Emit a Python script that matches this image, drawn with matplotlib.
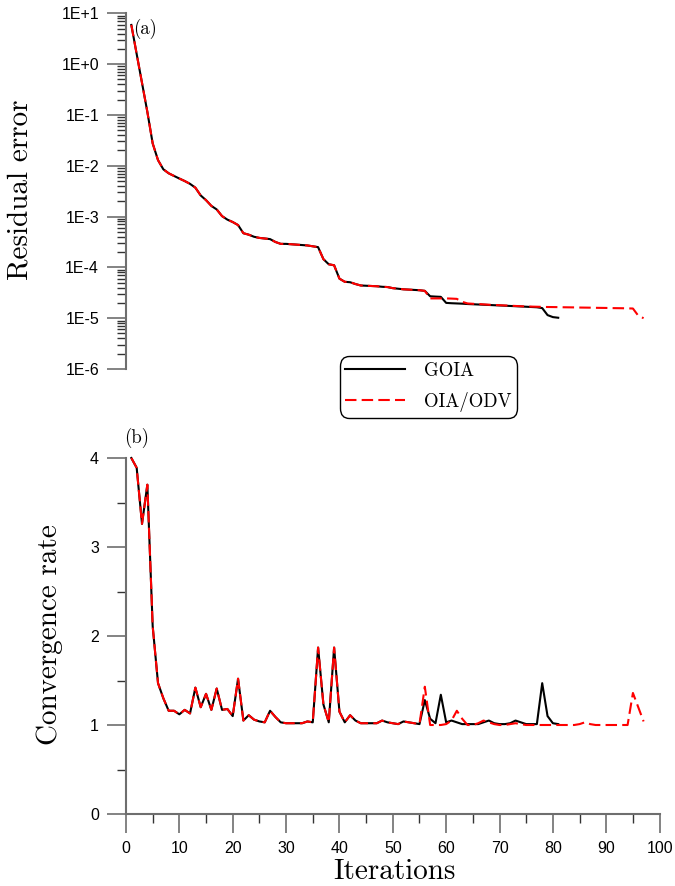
import numpy as np
import matplotlib
matplotlib.use("Agg")
import matplotlib.pyplot as plt
from matplotlib.ticker import LogLocator, FuncFormatter, MultipleLocator, NullFormatter
from matplotlib.lines import Line2D

# ---------------- data ----------------
# residual error, iterations 1..56 (identical for both methods)
common_res = [5.9, 1.58, 0.427, 0.115, 2.75e-2, 1.29e-2, 8.5e-3, 7.1e-3, 6.3e-3, 5.6e-3,
              5.0e-3, 4.4e-3, 3.7e-3, 2.6e-3, 2.1e-3, 1.62e-3, 1.38e-3, 1.02e-3, 8.7e-4, 7.8e-4,
              6.8e-4, 4.7e-4, 4.4e-4, 4.0e-4, 3.8e-4, 3.7e-4, 3.6e-4, 3.16e-4, 2.9e-4, 2.9e-4,
              2.85e-4, 2.8e-4, 2.75e-4, 2.7e-4, 2.6e-4, 2.5e-4, 1.45e-4, 1.15e-4, 1.1e-4, 6.0e-5,
              5.2e-5, 5.1e-5, 4.7e-5, 4.4e-5, 4.35e-5, 4.3e-5, 4.25e-5, 4.15e-5, 4.1e-5, 3.9e-5,
              3.8e-5, 3.7e-5, 3.65e-5, 3.6e-5, 3.55e-5, 3.45e-5]
# GOIA residual, iterations 57..81
goia_res_tail = [2.7e-5, 2.66e-5, 2.63e-5, 2.0e-5, 1.97e-5, 1.95e-5, 1.93e-5, 1.9e-5, 1.88e-5,
                 1.86e-5, 1.84e-5, 1.82e-5, 1.8e-5, 1.78e-5, 1.76e-5, 1.74e-5, 1.72e-5, 1.7e-5,
                 1.68e-5, 1.66e-5, 1.64e-5, 1.58e-5, 1.15e-5, 1.05e-5, 1.02e-5]
# OIA/ODV residual, iterations 57..97
odv_res_tail = [2.45e-5, 2.45e-5, 2.45e-5, 2.45e-5, 2.43e-5, 2.4e-5, 2.1e-5, 1.95e-5, 1.92e-5,
                1.9e-5, 1.87e-5, 1.84e-5, 1.82e-5, 1.8e-5, 1.78e-5, 1.76e-5, 1.74e-5, 1.72e-5,
                1.7e-5, 1.69e-5, 1.68e-5, 1.67e-5, 1.66e-5, 1.655e-5, 1.65e-5, 1.64e-5, 1.635e-5,
                1.63e-5, 1.62e-5, 1.615e-5, 1.61e-5, 1.6e-5, 1.595e-5, 1.59e-5, 1.58e-5, 1.575e-5,
                1.57e-5, 1.56e-5, 1.55e-5, 1.12e-5, 1.0e-5]

# convergence rate, iterations 1..55 (identical)
common_rate = [4.0, 3.89, 3.26, 3.70, 2.11, 1.47, 1.30, 1.16, 1.16, 1.12,
               1.17, 1.13, 1.42, 1.20, 1.35, 1.17, 1.41, 1.17, 1.18, 1.10,
               1.52, 1.05, 1.11, 1.06, 1.04, 1.03, 1.16, 1.09, 1.03, 1.02,
               1.02, 1.02, 1.02, 1.04, 1.03, 1.87, 1.23, 1.03, 1.87, 1.15,
               1.03, 1.11, 1.05, 1.02, 1.02, 1.02, 1.02, 1.05, 1.03, 1.02,
               1.01, 1.04, 1.03, 1.02, 1.01]
# GOIA rate, iterations 56..81
goia_rate_tail = [1.28, 1.07, 1.02, 1.34, 1.03, 1.05, 1.03, 1.01, 1.01, 1.01, 1.01, 1.03, 1.05,
                  1.02, 1.01, 1.01, 1.02, 1.05, 1.03, 1.01, 1.01, 1.01, 1.47, 1.10, 1.02, 1.01]
# OIA/ODV rate, iterations 56..97
odv_rate_tail = [1.43, 1.0, 1.0, 1.0, 1.01, 1.05, 1.16, 1.07, 1.0, 1.0, 1.02, 1.05, 1.03, 1.01,
                 1.0, 1.0, 1.01, 1.02, 1.01, 1.0, 1.0, 1.0, 1.0, 1.0, 1.0, 1.0, 1.0, 1.0, 1.0,
                 1.01, 1.03, 1.01, 1.0, 1.0, 1.0, 1.0, 1.0, 1.0, 1.0, 1.36, 1.2, 1.04]

labels = ["GOIA", "OIA/ODV"]

goia_res = common_res + goia_res_tail
odv_res = common_res + odv_res_tail
goia_rate = common_rate + goia_rate_tail
odv_rate = common_rate + odv_rate_tail

# ---------------- figure ----------------
W, H = 675, 886
fig = plt.figure(figsize=(W / 100, H / 100), dpi=100)

x0, x1 = 126, 659.6
ax1 = fig.add_axes([x0 / W, 1 - 369 / H, (x1 - x0) / W, (369 - 13.3) / H])
ax2 = fig.add_axes([x0 / W, 1 - 814 / H, (x1 - x0) / W, (814 - 458) / H])

GRAY = "#6e6e6e"
SERIF = "cmr10"
TICKFONT = "Liberation Sans"
red_kw = dict(color="#ff0000", lw=1.5, dashes=(5.5, 2.5), clip_on=False, zorder=3)
blk_kw = dict(color="black", lw=1.5, clip_on=False, zorder=2)

# ----- panel (a)
ax1.plot(np.arange(1, len(goia_res) + 1), goia_res, **blk_kw)
ax1.plot(np.arange(1, len(odv_res) + 1), odv_res, **red_kw)
ax1.set_yscale("log")
ax1.set_ylim(1e-6, 1e1)
ax1.set_xlim(0, 100)
for s in ["top", "right", "bottom"]:
    ax1.spines[s].set_visible(False)
ax1.spines["left"].set_color(GRAY)
ax1.spines["left"].set_linewidth(1.5)
ax1.xaxis.set_visible(False)
ax1.yaxis.set_major_locator(LogLocator(base=10, numticks=20))
ax1.yaxis.set_minor_locator(LogLocator(base=10, subs=np.arange(2, 10), numticks=20))
ax1.yaxis.set_minor_formatter(NullFormatter())
ax1.yaxis.set_major_formatter(FuncFormatter(lambda v, p: "1E%+d" % int(round(np.log10(v)))))

# ----- panel (b)
ax2.plot(np.arange(1, len(goia_rate) + 1), goia_rate, **blk_kw)
ax2.plot(np.arange(1, len(odv_rate) + 1), odv_rate, **red_kw)
ax2.set_xlim(0, 100)
ax2.set_ylim(0, 4)
for s in ["top", "right"]:
    ax2.spines[s].set_visible(False)
for s in ["left", "bottom"]:
    ax2.spines[s].set_color(GRAY)
    ax2.spines[s].set_linewidth(1.5)
ax2.xaxis.set_major_locator(MultipleLocator(10))
ax2.xaxis.set_minor_locator(MultipleLocator(5))
ax2.yaxis.set_major_locator(MultipleLocator(1))
ax2.yaxis.set_minor_locator(MultipleLocator(0.5))

for ax in (ax1, ax2):
    ax.tick_params(which="major", direction="out", length=13.4, width=1.2, color=GRAY,
                   pad=6.0, labelsize=11.5)
    ax.tick_params(which="minor", direction="out", length=6.7, width=1.0, color="#333333")
    for lab in ax.get_xticklabels() + ax.get_yticklabels():
        lab.set_family(TICKFONT)
    ax.patch.set_visible(False)

# ----- texts
fig.text(20 / W, 1 - 190 / H, "Residual error", rotation=90, family=SERIF, size=21,
         ha="center", va="center")
fig.text(50 / W, 1 - 635 / H, "Convergence rate", rotation=90, family=SERIF, size=21,
         ha="center", va="center")
fig.text(394 / W, 1 - 872 / H, "Iterations", family=SERIF, size=21, ha="center", va="center")
fig.text(133 / W, 1 - 28.5 / H, "(a)", family=SERIF, size=13.5, ha="left", va="center")
fig.text(124 / W, 1 - 437.5 / H, "(b)", family=SERIF, size=13.5, ha="left", va="center")

# ----- legend
handles = [Line2D([], [], color="black", lw=1.5),
           Line2D([], [], color="#ff0000", lw=1.5, dashes=(5.5, 2.5))]
leg = fig.legend(handles, labels, loc="center", bbox_to_anchor=(428.5 / W, 1 - 387 / H),
                 prop={"family": SERIF, "size": 13.5}, frameon=True, fancybox=True,
                 edgecolor="black", framealpha=1, borderpad=0.3, labelspacing=0.65,
                 handlelength=3.2, handletextpad=1.0, borderaxespad=0)
leg.get_frame().set_boxstyle("round,pad=0,rounding_size=0.5")
leg.get_frame().set_linewidth(1.0)

fig.savefig("out.png", dpi=100)
